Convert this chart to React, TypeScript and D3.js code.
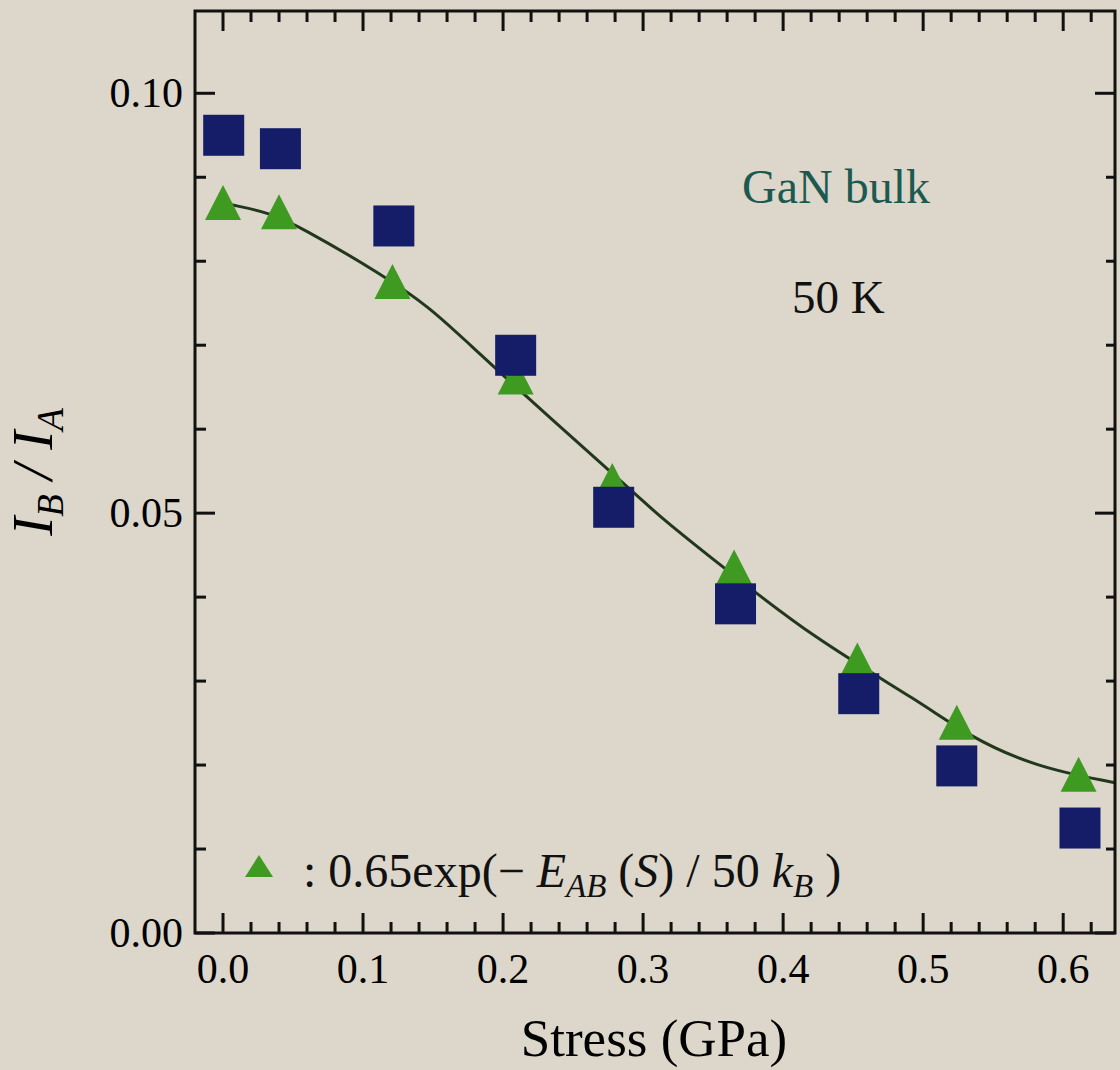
import React, { useRef, useEffect } from "react";
import * as d3 from "d3";

const squareStress = [0.0005, 0.041, 0.122, 0.209, 0.279, 0.366, 0.454, 0.524, 0.612];
const squareRatio = [0.095, 0.0934, 0.0842, 0.0688, 0.0507, 0.0392, 0.0285, 0.0199, 0.0125];
const triangleStress = [0.0, 0.04, 0.121, 0.209, 0.278, 0.365, 0.453, 0.524, 0.611];
const triangleRatio = [0.087, 0.0859, 0.0776, 0.0662, 0.0539, 0.0436, 0.0325, 0.0251, 0.0189];

// fitted curve 0.65exp(-E_AB(S)/50kB)
const fitStress = [0, 0.01, 0.034, 0.053, 0.117, 0.148, 0.169, 0.217, 0.274, 0.312, 0.357, 0.421, 0.499, 0.531, 0.579, 0.637];
const fitRatio = [0.0869, 0.0866, 0.0857, 0.0843, 0.0781, 0.0744, 0.0712, 0.0638, 0.0554, 0.0495, 0.0436, 0.0352, 0.0274, 0.0236, 0.0198, 0.0179];

const xTickValues = [0, 0.1, 0.2, 0.3, 0.4, 0.5, 0.6];
const xTickLabels = ["0.0", "0.1", "0.2", "0.3", "0.4", "0.5", "0.6"];
const yTickValues = [0, 0.05, 0.1];
const yTickLabels = ["0.00", "0.05", "0.10"];

const W = 1120;
const H = 1070;
const FONT = "'Liberation Serif', 'Times New Roman', serif";

const App = () => {
    const svgRef = useRef(null);

    useEffect(() => {
        const svg = d3.select(svgRef.current);
        svg.selectAll("*").remove();

        const x = d3.scaleLinear().domain([-0.02, 0.637]).range([195, 1115]);
        const y = d3.scaleLinear().domain([0, 0.1098]).range([933, 11]);
        const [x0, x1] = x.range();
        const [yb, yt] = y.range();

        svg.append("rect").attr("width", W).attr("height", H).attr("fill", "#dcd7ca");

        // fit curve
        const line = d3
            .line()
            .x(d => x(d[0]))
            .y(d => y(d[1]))
            .curve(d3.curveBasis);
        svg.append("path")
            .datum(fitStress.map((s, i) => [s, fitRatio[i]]))
            .attr("d", line)
            .attr("fill", "none")
            .attr("stroke", "#22381c")
            .attr("stroke-width", 3);

        const tri = (cx, cy, hw, h) =>
            `M${cx},${cy - h / 2}L${cx + hw},${cy + h / 2}L${cx - hw},${cy + h / 2}Z`;

        // triangles
        svg.selectAll(".tri")
            .data(triangleStress.map((s, i) => [s, triangleRatio[i]]))
            .enter()
            .append("path")
            .attr("class", "tri")
            .attr("d", d => tri(x(d[0]), y(d[1]), 18, 35))
            .attr("fill", "#3f9a22");

        // squares
        const sq = 41;
        svg.selectAll(".sq")
            .data(squareStress.map((s, i) => [s, squareRatio[i]]))
            .enter()
            .append("rect")
            .attr("class", "sq")
            .attr("x", d => x(d[0]) - sq / 2)
            .attr("y", d => y(d[1]) - sq / 2)
            .attr("width", sq)
            .attr("height", sq)
            .attr("fill", "#161d68");

        // frame
        svg.append("rect")
            .attr("x", x0)
            .attr("y", yt)
            .attr("width", x1 - x0)
            .attr("height", yb - yt)
            .attr("fill", "none")
            .attr("stroke", "#111")
            .attr("stroke-width", 3);

        // ticks
        const ticks = svg.append("g").attr("stroke", "#111").attr("stroke-width", 3);
        const xMinor = d3.range(0, 0.63, 0.02).filter(v => !xTickValues.some(t => Math.abs(t - v) < 1e-6));
        const yMinor = d3.range(0.01, 0.105, 0.01).filter(v => !yTickValues.some(t => Math.abs(t - v) < 1e-6));
        xTickValues.forEach(v => {
            ticks.append("line").attr("x1", x(v)).attr("x2", x(v)).attr("y1", yb).attr("y2", yb - 20);
            ticks.append("line").attr("x1", x(v)).attr("x2", x(v)).attr("y1", yt).attr("y2", yt + 20);
        });
        xMinor.forEach(v => {
            ticks.append("line").attr("x1", x(v)).attr("x2", x(v)).attr("y1", yb).attr("y2", yb - 11);
            ticks.append("line").attr("x1", x(v)).attr("x2", x(v)).attr("y1", yt).attr("y2", yt + 11);
        });
        yTickValues.forEach(v => {
            ticks.append("line").attr("x1", x0).attr("x2", x0 + 20).attr("y1", y(v)).attr("y2", y(v));
            ticks.append("line").attr("x1", x1).attr("x2", x1 - 20).attr("y1", y(v)).attr("y2", y(v));
        });
        yMinor.forEach(v => {
            ticks.append("line").attr("x1", x0).attr("x2", x0 + 11).attr("y1", y(v)).attr("y2", y(v));
            ticks.append("line").attr("x1", x1).attr("x2", x1 - 9).attr("y1", y(v)).attr("y2", y(v));
        });

        // tick labels
        svg.selectAll(".xl")
            .data(xTickValues)
            .enter()
            .append("text")
            .attr("x", d => x(d))
            .attr("y", 983)
            .attr("text-anchor", "middle")
            .attr("font-family", FONT)
            .attr("font-size", 42)
            .text((d, i) => xTickLabels[i]);

        svg.selectAll(".yl")
            .data(yTickValues)
            .enter()
            .append("text")
            .attr("x", 183)
            .attr("y", d => y(d) + 14)
            .attr("text-anchor", "end")
            .attr("font-family", FONT)
            .attr("font-size", 42)
            .text((d, i) => yTickLabels[i]);

        // axis titles
        svg.append("text")
            .attr("x", 654)
            .attr("y", 1056)
            .attr("text-anchor", "middle")
            .attr("font-family", FONT)
            .attr("font-size", 53)
            .text("Stress (GPa)");

        const yt2 = svg.append("text")
            .attr("transform", "translate(52,472) rotate(-90)")
            .attr("text-anchor", "middle")
            .attr("font-family", FONT)
            .attr("font-size", 57)
            .attr("font-style", "italic");
        yt2.append("tspan").attr("font-style", "italic").text("I");
        yt2.append("tspan").attr("font-style", "italic").attr("font-size", 37).attr("dy", 11).text("B");
        yt2.append("tspan").attr("font-style", "italic").attr("dy", -11).text(" / ");
        yt2.append("tspan").attr("font-style", "italic").text("I");
        yt2.append("tspan").attr("font-style", "italic").attr("font-size", 37).attr("dy", 11).text("A");

        // annotations
        svg.append("text")
            .attr("x", 742)
            .attr("y", 203)
            .attr("font-family", FONT)
            .attr("font-size", 48)
            .attr("fill", "#1c5a50")
            .text("GaN bulk");
        svg.append("text")
            .attr("x", 792)
            .attr("y", 313)
            .attr("font-family", FONT)
            .attr("font-size", 47)
            .attr("fill", "#111")
            .text("50 K");

        // legend
        svg.append("path").attr("d", tri(259, 866, 14, 22)).attr("fill", "#3f9a22");
        const lg = svg.append("text")
            .attr("x", 303)
            .attr("y", 887)
            .attr("font-family", FONT)
            .attr("font-size", 48)
            .attr("fill", "#111");
        lg.append("tspan").text(": 0.65exp(\u2212 ");
        lg.append("tspan").attr("font-style", "italic").text("E");
        lg.append("tspan").attr("font-style", "italic").attr("font-size", 33).attr("dy", 10).text("AB");
        lg.append("tspan").attr("dy", -10).text(" (");
        lg.append("tspan").attr("font-style", "italic").text("S");
        lg.append("tspan").text(") / 50 ");
        lg.append("tspan").attr("font-style", "italic").text("k");
        lg.append("tspan").attr("font-style", "italic").attr("font-size", 33).attr("dy", 10).text("B");
        lg.append("tspan").attr("dy", -10).text(" )");
    }, []);

    return (
        <svg
            ref={svgRef}
            width={W}
            height={H}
            style={{ position: "absolute", left: 0, top: 0, display: "block" }}
        />
    );
};

export default App;
